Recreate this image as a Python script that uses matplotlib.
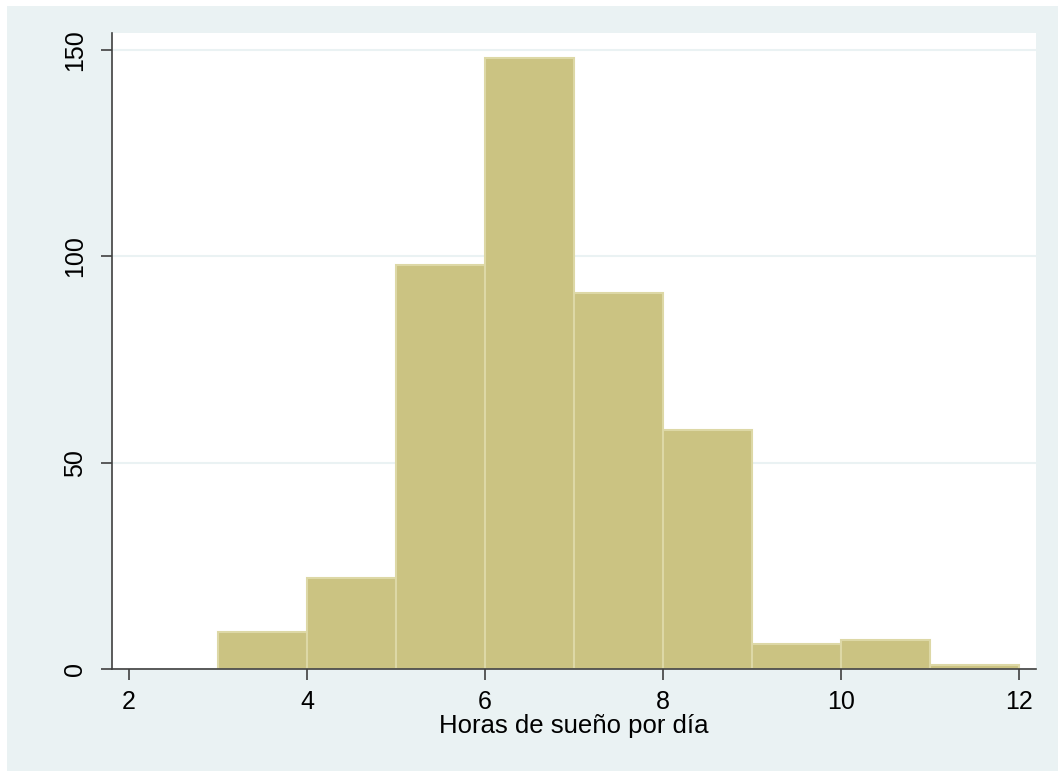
import matplotlib
matplotlib.use("Agg")
import matplotlib.pyplot as plt
from matplotlib.patches import Rectangle

bin_edges = [3, 4, 5, 6, 7, 8, 9, 10, 11, 12]
counts = [9, 22, 98, 148, 91, 58, 6, 7, 1]
x_ticks = [2, 4, 6, 8, 10, 12]
y_ticks = [0, 50, 100, 150]
x_label = "Horas de sueño por día"

plt.rcParams['font.family'] = ['Liberation Sans', 'DejaVu Sans']

W, H = 1058, 771
fig = plt.figure(figsize=(W / 100, H / 100), dpi=100)
fig.patch.set_facecolor('white')
bg = "#EAF2F3"
fig.patches.append(Rectangle((7 / W, 0), 1 - 7 / W, 1 - 6 / H, transform=fig.transFigure,
                             facecolor=bg, edgecolor='none', zorder=-10))

left, right, top, bottom = 112, 1036, 33, 669
ax = fig.add_axes([left / W, 1 - bottom / H, (right - left) / W, (bottom - top) / H])
ax.set_facecolor('white')

widths = [bin_edges[i + 1] - bin_edges[i] for i in range(len(counts))]
ax.bar(bin_edges[:-1], counts, width=widths, align='edge', color="#CBC382",
       edgecolor="#DDD8A6", linewidth=1.5, zorder=3)

ax.set_xlim(1.81, 12.19)
ax.set_ylim(0, 154.1)
ax.set_yticks(y_ticks)
ax.set_xticks(x_ticks)
ax.set_yticklabels([str(v) for v in y_ticks], rotation=90, va='center')
ax.grid(axis='y', color=bg, linewidth=1.5, zorder=0)
ax.grid(axis='x', visible=False)

for s in ['top', 'right']:
    ax.spines[s].set_visible(False)
for s in ['left', 'bottom']:
    ax.spines[s].set_color('#404040')
    ax.spines[s].set_linewidth(1.2)
    ax.spines[s].set_zorder(4)

ax.tick_params(axis='both', length=8, width=1.2, color='#404040', labelsize=18,
               labelcolor='black')
ax.tick_params(axis='x', pad=7)
ax.tick_params(axis='y', pad=10)
ax.set_xlabel(x_label, fontsize=18.5, labelpad=0)

fig.savefig("out.png", dpi=100, facecolor='white')
